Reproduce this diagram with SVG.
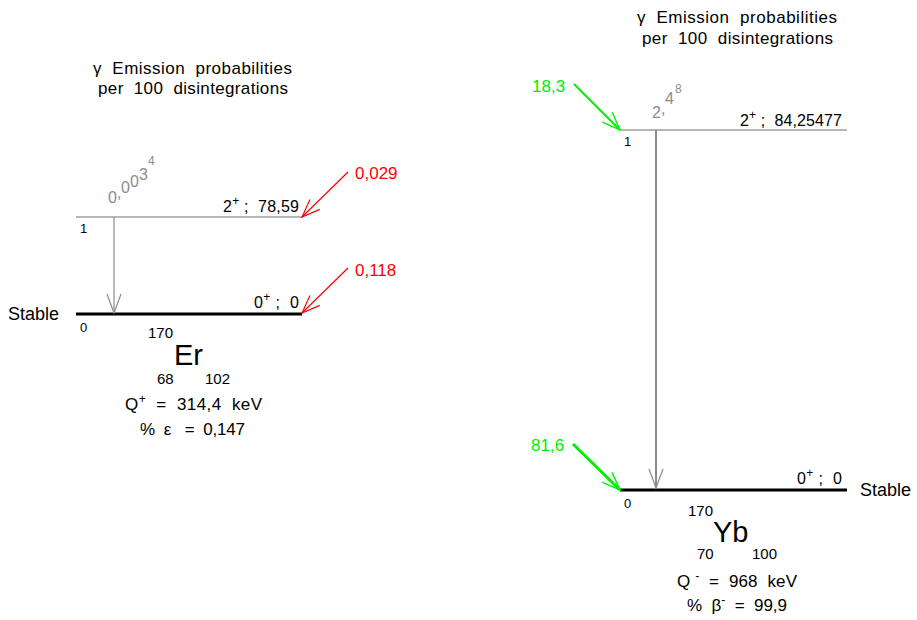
<svg xmlns="http://www.w3.org/2000/svg" width="917" height="620" viewBox="0 0 917 620" xml:space="preserve">
<style>
text{font-family:"Liberation Sans",Arial,sans-serif;fill:#000;white-space:pre}
.ti{font-size:17px}
.lb{font-size:16px}
.n{font-size:13px}
.nz{font-size:15px}
.sm{font-size:12px}
.big{font-size:29px}
.q{font-size:17px}
.st{font-size:18px}
.red{fill:#ff0000;font-size:17px}
.grn{fill:#00ee00;font-size:17px}
.gy{fill:#8c8c8c;font-size:16px}
.lv1{stroke:#707070;stroke-width:1.2}
.lv0{stroke:#000;stroke-width:3}
</style>
<defs>
<marker id="vg" markerUnits="userSpaceOnUse" viewBox="-20 -8 22 16" refX="0" refY="0" markerWidth="22" markerHeight="16" orient="auto"><path d="M-19,-7 L0,0 L-19,7" fill="none" stroke="#8c8c8c" stroke-width="1.2"/></marker>
<marker id="vr" markerUnits="userSpaceOnUse" viewBox="-20 -8 22 16" refX="0" refY="0" markerWidth="22" markerHeight="16" orient="auto"><path d="M-18,-7 L0,0 L-18,7" fill="none" stroke="#ff0000" stroke-width="1.2"/></marker>
<marker id="vgr" markerUnits="userSpaceOnUse" viewBox="-20 -8 22 16" refX="0" refY="0" markerWidth="22" markerHeight="16" orient="auto"><path d="M-18,-7 L0,0 L-18,7" fill="none" stroke="#00ee00" stroke-width="1.4"/></marker>
</defs>

<g id="er-title">
<text class="ti" x="93" y="74" textLength="199" lengthAdjust="spacing">γ  Emission  probabilities</text>
<text class="ti" x="98" y="94" textLength="190" lengthAdjust="spacing">per  100  disintegrations</text>
</g>
<g id="er-level1">
<line class="lv1" x1="76" y1="217" x2="302" y2="217"/>
<text class="n" x="80" y="233">1</text>
<text class="lb" x="223" y="212" textLength="76" lengthAdjust="spacing">2<tspan class="sm" dy="-7">+</tspan><tspan dy="7"> ;  78,59</tspan></text>
</g>
<g id="er-level0">
<line class="lv0" x1="76" y1="314" x2="302" y2="314"/>
<text class="n" x="80" y="332">0</text>
<text class="lb" x="254" y="308" textLength="45" lengthAdjust="spacing">0<tspan class="sm" dy="-7">+</tspan><tspan dy="7"> ;  0</tspan></text>
<text class="st" x="8" y="320">Stable</text>
</g>
<g id="er-nuclide">
<text class="nz" x="148" y="338">170</text>
<text class="big" x="174" y="365">Er</text>
<text class="nz" x="157" y="384">68</text>
<text class="nz" x="205" y="384">102</text>
<text class="q" x="125" y="410" textLength="137" lengthAdjust="spacing">Q<tspan class="sm" dy="-7">+</tspan><tspan dy="7">  =  314,4  keV</tspan></text>
<text class="q" x="140" y="435" textLength="105" lengthAdjust="spacing">%  ε   =  0,147</text>
</g>

<g id="yb-title">
<text class="ti" x="637" y="23" textLength="200" lengthAdjust="spacing">γ  Emission  probabilities</text>
<text class="ti" x="642" y="44" textLength="191" lengthAdjust="spacing">per  100  disintegrations</text>
</g>
<g id="yb-level1">
<line class="lv1" x1="620" y1="130" x2="847" y2="130"/>
<text class="n" x="624" y="146">1</text>
<text class="lb" x="740" y="126" textLength="102" lengthAdjust="spacing">2<tspan class="sm" dy="-7">+</tspan><tspan dy="7"> ;  84,25477</tspan></text>
</g>
<g id="yb-level0">
<line class="lv0" x1="620" y1="490" x2="847" y2="490"/>
<text class="n" x="624" y="508">0</text>
<text class="lb" x="797" y="484" textLength="45" lengthAdjust="spacing">0<tspan class="sm" dy="-7">+</tspan><tspan dy="7"> ;  0</tspan></text>
<text class="st" x="860" y="496">Stable</text>
</g>
<g id="yb-nuclide">
<text class="nz" x="688" y="516">170</text>
<text class="big" x="713" y="542">Yb</text>
<text class="nz" x="697" y="559">70</text>
<text class="nz" x="752" y="559">100</text>
<text class="q" x="677" y="587" textLength="120" lengthAdjust="spacing">Q <tspan class="sm" dy="-7">-</tspan><tspan dy="7">  =  968  keV</tspan></text>
<text class="q" x="687" y="611" textLength="100" lengthAdjust="spacing">%  β<tspan class="sm" dy="-7">-</tspan><tspan dy="7">  =  99,9</tspan></text>
</g>

<g id="connectors">
<line x1="114" y1="217" x2="114" y2="313" stroke="#8c8c8c" stroke-width="1.2" marker-end="url(#vg)"/>
<line x1="656" y1="130" x2="656" y2="488" stroke="#8c8c8c" stroke-width="2" marker-end="url(#vg)"/>
<line x1="348" y1="172" x2="302" y2="217" stroke="#ff0000" stroke-width="1.2" marker-end="url(#vr)"/>
<line x1="348" y1="268" x2="302" y2="313" stroke="#ff0000" stroke-width="1.2" marker-end="url(#vr)"/>
<line x1="574" y1="84" x2="620" y2="130" stroke="#00ee00" stroke-width="2" marker-end="url(#vgr)"/>
<line x1="573" y1="444" x2="620" y2="490" stroke="#00ee00" stroke-width="3" marker-end="url(#vgr)"/>
</g>

<g id="labels">
<text class="red" x="355" y="179">0,029</text>
<text class="red" x="355" y="276">0,118</text>
<text class="grn" x="532" y="92">18,3</text>
<text class="grn" x="531" y="451">81,6</text>
<text class="gy" x="108" y="203">0<tspan x="117" y="198">,</tspan><tspan x="121" y="193">0</tspan><tspan x="130" y="187">0</tspan><tspan x="139" y="180">3</tspan><tspan class="sm" x="148" y="165">4</tspan></text>
<text class="gy" x="652" y="118">2<tspan x="661" y="114">,</tspan><tspan x="665" y="104">4</tspan><tspan class="sm" x="675" y="93">8</tspan></text>
</g>
</svg>
